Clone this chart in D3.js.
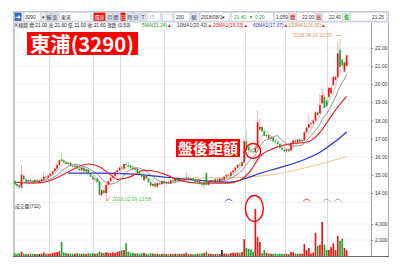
<!DOCTYPE html>
<html>
<head>
<meta charset="utf-8">
<script src="https://cdn.jsdelivr.net/npm/d3@7"></script>
<style>
  body { margin: 0; background: #fff; }
  svg { display: block; font-family: "Liberation Sans", Arial, "Noto Sans CJK TC", sans-serif; }
</style>
</head>
<body>
<svg id="chart" width="400" height="270"></svg>
<script>
// Daily candles, 3290 東浦 (left = oldest, right = 2018/08)
var opens = [
  14.65,14.50,14.40,14.30,14.95,14.75,14.65,14.70,14.65,14.60,
  14.70,14.65,14.65,14.75,14.90,14.85,14.95,15.05,15.20,15.35,
  15.55,15.85,15.80,15.70,15.60,15.65,15.50,15.45,15.50,15.35,
  15.25,15.40,15.20,15.30,15.05,14.90,14.75,14.80,14.65,13.90,
  14.15,14.00,14.45,14.65,14.85,14.95,15.15,15.25,15.40,15.35,
  15.60,15.55,15.50,15.40,15.30,15.35,15.15,15.05,14.70,14.95,
  14.80,14.60,14.40,14.50,14.35,14.55,14.50,14.65,14.55,14.60,
  14.55,14.70,14.65,14.80,14.70,14.80,14.75,14.80,14.85,14.75,
  14.80,14.70,14.60,14.65,14.50,14.45,15.10,14.45,14.60,14.70,
  14.60,14.75,14.65,14.75,14.75,14.90,15.00,14.95,15.15,15.25,
  15.40,15.55,15.50,15.70,16.85,16.55,16.35,16.30,16.25,16.50,
  17.50,17.65,17.40,17.15,17.20,17.00,17.05,16.85,16.80,16.70,
  16.50,16.40,16.30,16.40,16.35,16.75,16.90,16.80,16.95,16.85,
  16.90,17.35,17.60,17.80,17.85,18.00,18.45,18.40,18.95,19.30,
  19.10,19.30,19.50,19.95,20.25,20.40,21.90,21.35,20.70,21.00
];
var highs = [
  14.70,14.60,14.45,15.55,15.05,14.85,14.75,14.80,14.70,14.75,
  14.75,14.70,14.80,15.20,15.00,15.00,15.10,15.25,15.40,15.60,
  15.85,16.20,15.90,15.80,15.70,15.70,15.60,15.55,15.55,15.45,
  15.50,15.45,15.35,15.35,15.10,15.00,14.85,14.85,14.70,14.20,
  14.25,14.50,14.70,14.90,15.05,15.20,15.30,15.45,15.55,15.65,
  15.80,15.70,15.60,15.50,15.40,15.40,15.25,15.10,15.00,15.00,
  14.85,14.70,14.55,14.60,14.60,14.65,14.70,14.70,14.65,14.70,
  14.75,14.80,14.85,14.85,14.85,14.90,14.85,15.15,14.90,14.85,
  14.85,14.75,14.70,14.70,14.55,14.60,15.15,14.65,14.75,14.75,
  14.80,14.80,14.85,14.85,14.95,15.05,15.10,15.20,15.30,15.45,
  15.60,15.70,15.75,17.00,17.50,16.65,16.50,16.45,16.60,18.55,
  18.10,17.70,17.55,17.30,17.25,17.15,17.10,16.95,16.90,16.75,
  16.60,16.50,16.45,16.45,16.80,16.95,17.00,17.00,17.05,17.00,
  17.40,17.70,18.30,17.95,18.10,18.50,18.55,19.50,19.80,19.45,
  19.20,19.85,19.90,20.45,20.45,22.35,22.50,21.45,21.25,21.60
];
var lows = [
  14.45,14.30,14.20,14.25,14.70,14.60,14.55,14.60,14.55,14.55,
  14.60,14.60,14.60,14.70,14.80,14.80,14.90,15.00,15.15,15.30,
  15.50,15.70,15.65,15.55,15.50,15.45,15.40,15.35,15.30,15.20,
  15.20,15.15,15.10,15.00,14.85,14.70,14.60,14.55,13.85,13.80,
  13.95,13.58,14.40,14.60,14.80,14.90,15.05,15.20,15.30,15.30,
  15.50,15.40,15.35,15.25,15.15,15.10,15.00,14.85,14.65,14.75,
  14.55,14.35,14.25,14.30,14.30,14.45,14.45,14.50,14.40,14.50,
  14.50,14.60,14.60,14.65,14.65,14.70,14.70,14.75,14.70,14.70,
  14.65,14.55,14.50,14.45,14.35,14.25,14.40,14.40,14.55,14.55,
  14.55,14.60,14.60,14.65,14.70,14.85,14.90,14.90,15.05,15.20,
  15.35,15.45,15.45,15.65,16.40,16.25,16.20,16.15,16.20,16.45,
  17.40,17.30,17.10,17.00,16.95,16.85,16.80,16.70,16.65,16.45,
  16.30,16.25,16.20,16.25,16.30,16.60,16.75,16.75,16.80,16.80,
  16.85,17.25,17.55,17.60,17.75,17.95,18.20,18.35,18.90,18.65,
  18.75,19.20,19.45,19.90,20.20,20.35,20.90,21.00,20.65,21.00
];
var closes = [
  14.50,14.40,14.30,15.00,14.75,14.65,14.70,14.65,14.60,14.70,
  14.65,14.65,14.75,14.90,14.85,14.95,15.05,15.20,15.35,15.55,
  15.80,15.75,15.70,15.60,15.65,15.50,15.45,15.50,15.35,15.25,
  15.40,15.20,15.30,15.05,14.90,14.75,14.80,14.60,13.90,14.15,
  14.00,14.45,14.65,14.85,14.95,15.15,15.25,15.40,15.35,15.60,
  15.55,15.50,15.40,15.30,15.35,15.15,15.05,14.90,14.95,14.80,
  14.60,14.40,14.50,14.35,14.55,14.50,14.65,14.55,14.60,14.55,
  14.70,14.65,14.80,14.70,14.80,14.75,14.80,14.85,14.75,14.80,
  14.70,14.60,14.65,14.50,14.45,14.55,14.45,14.60,14.70,14.60,
  14.75,14.65,14.80,14.75,14.90,15.00,14.95,15.15,15.25,15.40,
  15.55,15.50,15.70,16.85,16.55,16.35,16.30,16.25,16.50,17.90,
  17.65,17.40,17.15,17.20,17.00,17.05,16.85,16.80,16.70,16.50,
  16.40,16.30,16.40,16.30,16.75,16.90,16.80,16.95,16.85,16.90,
  17.35,17.60,17.80,17.85,18.00,18.45,18.30,18.85,19.40,18.70,
  18.80,19.80,19.80,20.40,20.40,21.70,20.95,21.05,21.20,21.60
];
var volumes = [
  320,280,350,520,300,260,240,300,280,260,
  250,220,300,450,300,280,320,380,420,500,
  600,1750,450,380,300,320,280,300,350,300,
  280,320,260,350,300,380,280,340,550,420,
  380,480,400,380,420,380,520,600,700,750,
  1600,550,420,380,300,350,280,320,400,300,
  280,350,320,260,300,240,280,300,250,220,
  260,240,300,280,260,300,280,420,260,240,
  220,260,300,280,320,380,550,300,280,260,
  240,280,260,750,300,320,280,350,420,380,
  450,400,500,2100,1000,900,800,500,5900,2400,
  1750,350,750,400,320,300,280,320,260,300,
  280,250,300,260,520,450,300,280,320,300,
  1500,750,1000,300,450,2900,1250,1400,4250,1400,
  750,750,1100,1600,750,2500,1900,2200,1000,732
];

// Long moving averages: [bar, value]
var ma20 = [[0,14.6],[8,14.55],[13,14.6],[20,14.9],[26,15.3],[33,15.6],[38,15.45],[43,15.0],
            [46,14.75],[52,14.9],[58,15.25],[63,15.2],[68,15.0],[74,14.7],[83,14.55],[96,14.55],
            [101,14.7],[106,15.25],[110,16.0],[116,16.45],[123,16.7],[131,16.8],[137,17.35],
            [141,18.05],[146,18.9],[149,19.33]];
var ma60 = [[24,15.1],[38,15.1],[53,15.04],[68,14.87],[83,14.7],[97,14.6],[104,14.82],[110,15.08],
            [119,15.4],[128,15.75],[137,16.25],[144,16.85],[149,17.37]];
var ma120 = [[80,14.85],[90,14.83],[101,14.86],[110,14.93],[124,15.2],[137,15.6],[149,16.0]];

var priceTicks = [14, 15, 16, 17, 18, 19, 20, 21, 22];
var volTicks = [2000, 4000];
var monthBars = [16, 36, 48, 68, 104, 122, 141];   // vertical grid lines
var signalBars = [96, 131, 140, 145];               // little arc marks under the price panel

(function() {
  var N = closes.length;
  var svg = d3.select('#chart');
  var red = '#f01515', green = '#1fa52f';

  var x = d3.scaleBand().domain(d3.range(N)).range([14, 347.5]).paddingInner(0.25);
  var xc = function(i) { return x(i) + x.bandwidth() / 2; };
  var y = d3.scaleLinear().domain([14, 22]).range([193, 48]);
  var vy = d3.scaleLinear().domain([0, 4000]).range([256, 224]);

  function colorOf(i) {
    if (closes[i] > opens[i]) return red;
    if (closes[i] < opens[i]) return green;
    return '#222';
  }

  // Toolbar
  var tb = svg.append('g').style('font-size', '4.8px');
  tb.append('rect').attr('x', 13.5).attr('y', 11.5).attr('width', 375).attr('height', 10.5)
      .attr('fill', '#e3e8f0').attr('stroke', '#a7b1c0').attr('stroke-width', 0.6);
  var tools = [
    [14, 8, '', '#2d6cc5'], [23, 18, '3290', '#fff', '#333', 1], [41, 5, '▾', '#f0f0f0'],
    [46, 6, '輸', '#d9e1ec'], [52, 6, '查', '#d9e1ec'], [59, 32, '東浦', '#fff', '#333', 1],
    [93, 13, '還原', red, '#fff'], [107, 6, '月', '#dbe5f4'], [113, 6, '週', '#dbe5f4'],
    [120, 6, '日', red, '#fff'], [127, 6, '時', '#dbe5f4'], [133, 6, '分', '#dbe5f4'],
    [140, 6, 'T', '#dbe5f4'], [147, 14, '15', '#fff', '#aaa', 1], [162, 11, '', '#f6f6f6'],
    [174, 16, '200', '#fff', '#333', 1], [191, 6, '個', '#dbe5f4'], [199, 31, '2018/08/1▾', '#fff', '#333', 1],
    [231, 43, '', '#fff'], [274, 15, '', '#fff'], [296, 19, '', '#fff'], [322, 21, '', '#fff'], [350, 37, '', '#fff']
  ];
  tools.forEach(function(t) {
    tb.append('rect').attr('x', t[0] + 0.5).attr('y', 12.5).attr('width', t[1] - 1).attr('height', 8.5)
        .attr('fill', t[3]).attr('stroke', '#b5bcc7').attr('stroke-width', 0.4);
    if (t[2]) tb.append('text')
        .attr('x', t[5] ? t[0] + 2 : t[0] + t[1] / 2).attr('y', 18.6)
        .attr('text-anchor', t[5] ? 'start' : 'middle')
        .attr('fill', t[4] || '#333').text(t[2]);
  });
  tb.append('path').attr('d', 'M15.5,16.7h3v-1.6l2.2,2.1l-2.2,2.1v-1.6h-3z').attr('fill', '#fff');
  var quote = [
    [234, '21.40', green], [248.5, '▼', green], [255, '0.20', green], [276, '1,059', '#333'],
    [302, '22.00', '#333'], [329, '22.40', '#333'], [372, '21.25', '#333']
  ];
  quote.forEach(function(q) {
    tb.append('text').attr('x', q[0]).attr('y', 18.6).attr('fill', q[2]).text(q[1]);
  });
  [[290, '開', '#f3c6c6', '#a00'], [316, '高', '#f3c6c6', '#a00'], [344, '低', '#c6ecc6', '#070']].forEach(function(l) {
    tb.append('rect').attr('x', l[0]).attr('y', 13.5).attr('width', 5.5).attr('height', 6.5).attr('fill', l[2]);
    tb.append('text').attr('x', l[0] + 2.75).attr('y', 18.6).attr('text-anchor', 'middle').attr('fill', l[3]).text(l[1]);
  });

  // Info line
  var info = svg.append('g').style('font-size', '4.8px');
  var infoItems = [
    [15, 'K線圖 開:21.00 高:21.60 低:21.00 收:21.60 漲跌:(0.53)', '#222'],
    [142, '5MA(21.24)', '#229922'], [177, '10MA1(20.42)', '#333'], [213, '20MA1(19.33)', '#e01010'],
    [253, '60MA1(17.37)', '#2c2cc0'], [288, '120MA1(16.00)', '#d08a3a']
  ];
  infoItems.forEach(function(d, k) {
    var t = info.append('text').attr('x', d[0]).attr('y', 27).attr('fill', d[2]).text(d[1]);
    if (k > 0) t.append('tspan').attr('fill', red).text('▲');
  });

  // Frame
  svg.append('line').attr('x1', 14).attr('x2', 14).attr('y1', 22.5).attr('y2', 257)
      .attr('stroke', '#bbb').attr('stroke-width', 1.6);
  svg.append('line').attr('x1', 388.5).attr('x2', 388.5).attr('y1', 22.5).attr('y2', 257)
      .attr('stroke', '#999').attr('stroke-width', 0.8);
  svg.append('line').attr('x1', 13).attr('x2', 389).attr('y1', 256.5).attr('y2', 256.5)
      .attr('stroke', '#666').attr('stroke-width', 1);
  svg.append('line').attr('x1', 14).attr('x2', 371).attr('y1', 202.5).attr('y2', 202.5)
      .attr('stroke', '#e2e2e2').attr('stroke-width', 0.6);

  // Grid
  var grid = svg.append('g').attr('stroke', '#d4d4d4').attr('stroke-width', 0.6);
  grid.selectAll('line.v').data(monthBars).enter().append('line')
      .attr('x1', function(i) { return Math.round(x(i)) - 0.5; })
      .attr('x2', function(i) { return Math.round(x(i)) - 0.5; })
      .attr('y1', 30).attr('y2', 256).attr('stroke', '#dcdcdc').attr('stroke-width', 1);
  grid.selectAll('line.h').data(priceTicks).enter().append('line')
      .attr('x1', 15).attr('x2', 371)
      .attr('y1', function(d) { return y(d); }).attr('y2', function(d) { return y(d); })
      .attr('stroke-dasharray', '1,1');
  grid.selectAll('line.vh').data(volTicks).enter().append('line')
      .attr('x1', 15).attr('x2', 371)
      .attr('y1', function(d) { return vy(d); }).attr('y2', function(d) { return vy(d); })
      .attr('stroke-dasharray', '1,1');

  // Right axes
  var pAxis = svg.append('g').attr('transform', 'translate(371,0)')
      .call(d3.axisRight(y).tickValues(priceTicks).tickFormat(d3.format('.2f')).tickSize(2).tickPadding(2));
  var vAxis = svg.append('g').attr('transform', 'translate(371,0)')
      .call(d3.axisRight(vy).tickValues(volTicks).tickFormat(d3.format(',')).tickSize(2).tickPadding(2));
  [pAxis, vAxis].forEach(function(a) {
    a.select('.domain').remove();
    a.selectAll('text').attr('fill', '#333').style('font-size', '5px').style('font-family', '"Liberation Sans", Arial');
    a.selectAll('line').attr('stroke', '#888');
  });
  svg.append('line').attr('x1', 371.5).attr('x2', 371.5).attr('y1', 22.5).attr('y2', 257)
      .attr('stroke', '#888').attr('stroke-width', 0.8);

  // Moving averages
  function movingAvg(n) {
    return closes.map(function(c, i) {
      return [i, d3.mean(closes.slice(Math.max(0, i - n + 1), i + 1))];
    });
  }
  var line = d3.line().x(function(d) { return xc(d[0]); }).y(function(d) { return y(d[1]); });
  var smooth = d3.line().x(function(d) { return xc(d[0]); }).y(function(d) { return y(d[1]); })
      .curve(d3.curveMonotoneX);
  var mas = svg.append('g').attr('fill', 'none');
  mas.append('path').attr('d', smooth(ma120)).attr('stroke', '#e6cc98').attr('stroke-width', 1.2);
  mas.append('path').attr('d', smooth(ma60)).attr('stroke', '#2b33c6').attr('stroke-width', 1.2);
  mas.append('path').attr('d', smooth(ma20)).attr('stroke', '#e22626').attr('stroke-width', 1.2);
  mas.append('path').attr('d', line(movingAvg(10))).attr('stroke', '#666').attr('stroke-width', 0.7);
  mas.append('path').attr('d', line(movingAvg(5))).attr('stroke', '#aaa').attr('stroke-width', 0.7);

  // Candles
  var candle = svg.append('g').selectAll('g.candle').data(d3.range(N)).enter().append('g');
  candle.append('line')
      .attr('x1', xc).attr('x2', xc)
      .attr('y1', function(i) { return y(highs[i]); })
      .attr('y2', function(i) { return y(lows[i]); })
      .attr('stroke', colorOf).attr('stroke-opacity', 0.45).attr('stroke-width', 0.8);
  candle.append('rect')
      .attr('x', function(i) { return x(i); })
      .attr('width', x.bandwidth())
      .attr('y', function(i) { return y(Math.max(opens[i], closes[i])); })
      .attr('height', function(i) { return Math.max(0.8, Math.abs(y(opens[i]) - y(closes[i]))); })
      .attr('fill', colorOf);

  // Volume
  svg.append('g').selectAll('rect').data(volumes).enter().append('rect')
      .attr('x', function(v, i) { return x(i); })
      .attr('width', x.bandwidth())
      .attr('y', function(v) { return vy(v); })
      .attr('height', function(v) { return 256 - vy(v); })
      .attr('fill', function(v, i) { return colorOf(i); });
  svg.append('text').attr('x', 15).attr('y', 208).style('font-size', '4.8px').attr('fill', '#333')
      .text('成交量(' + volumes[N - 1] + ')');

  // Signal arcs
  var sigColors = ['#3a3ad0', '#e02020', '#999', '#999'];
  svg.append('g').attr('fill', 'none').attr('stroke-width', 0.9)
    .selectAll('path').data(signalBars).enter().append('path')
      .attr('d', function(i) { var c = xc(i); return 'M' + (c - 3.5) + ',201.5Q' + c + ',196.5 ' + (c + 3.5) + ',201.5'; })
      .attr('stroke', function(i, k) { return sigColors[k]; });

  // High / low notes
  var hiIdx = highs.indexOf(d3.max(highs)), loIdx = lows.indexOf(d3.min(lows));
  svg.append('text').attr('x', 293).attr('y', 37).style('font-size', '5px').attr('fill', '#e0954e')
      .text('2018.08.10  ' + d3.format('.2f')(highs[hiIdx]));
  svg.append('line').attr('x1', 336).attr('x2', xc(hiIdx) + 1).attr('y1', 35.5).attr('y2', 35.5)
      .attr('stroke', '#e0954e').attr('stroke-width', 0.7);
  svg.append('path').attr('d', 'M' + (xc(loIdx) + 5) + ',196.8L' + (xc(loIdx) + 0.5) + ',200.5m0,0l2.4,-0.2m-2.4,0.2l0.4,-2.3')
      .attr('fill', 'none').attr('stroke', '#e0954e').attr('stroke-width', 0.7);
  svg.append('text').attr('x', xc(loIdx) + 6).attr('y', 201).style('font-size', '5px').attr('fill', '#5fb35f')
      .text('2018.02.09  ' + d3.format('.2f')(lows[loIdx]));

  // Title and callouts
  svg.append('rect').attr('x', 27).attr('y', 32).attr('width', 111).attr('height', 23).attr('fill', '#ff0000');
  svg.append('text').attr('x', 30).attr('y', 52).attr('textLength', 104).attr('lengthAdjust', 'spacingAndGlyphs')
      .style('font-family', '"Noto Sans CJK TC", sans-serif').style('font-weight', 'bold').style('font-size', '20px')
      .attr('fill', '#fff').text('東浦(3290)');
  svg.append('rect').attr('x', 176).attr('y', 139).attr('width', 64).attr('height', 18).attr('fill', '#ff0000');
  svg.append('text').attr('x', 178).attr('y', 154).attr('textLength', 60).attr('lengthAdjust', 'spacingAndGlyphs')
      .style('font-family', '"Noto Sans CJK TC", sans-serif').style('font-weight', 'bold').style('font-size', '15px')
      .attr('fill', '#fff').text('盤後鉅額');
  svg.append('circle').attr('cx', xc(107)).attr('cy', 151).attr('r', 7.5)
      .attr('fill', 'none').attr('stroke', '#f00').attr('stroke-width', 1.4);
  svg.append('ellipse').attr('cx', xc(108) - 1).attr('cy', 208.5).attr('rx', 9).attr('ry', 13)
      .attr('fill', 'none').attr('stroke', '#f00').attr('stroke-width', 1.4);
})();
</script>
</body>
</html>
